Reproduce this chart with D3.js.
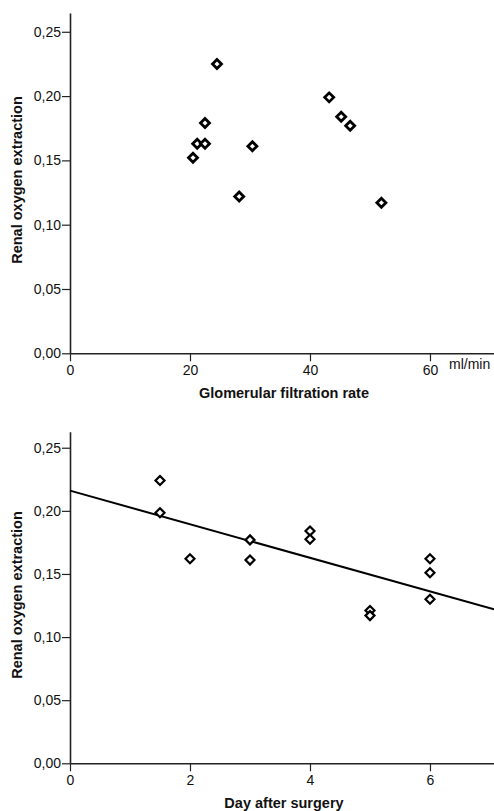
<!DOCTYPE html>
<html>
<head>
<meta charset="utf-8">
<script src="https://cdn.jsdelivr.net/npm/d3@7"></script>
<style>
  body { margin: 0; background: #fff; }
  svg text { font-family: "Liberation Sans", Arial, sans-serif; fill: #111; }
  .tick text { font-size: 14px; }
  .axisTitle { font-size: 14.5px; font-weight: bold; }
</style>
</head>
<body>
<div id="chart"></div>
<script>
// panel 1: GFR vs renal oxygen extraction
var gfr = [20.5, 21.2, 22.5, 22.5, 24.5, 28.2, 30.4, 43.2, 45.2, 46.7, 51.9];
var gfrExtraction = [0.152, 0.163, 0.163, 0.179, 0.225, 0.122, 0.161, 0.199, 0.184, 0.177, 0.117];
var gfrTicks = [0, 20, 40, 60];

// panel 2: day after surgery vs renal oxygen extraction
var day = [1.5, 1.5, 2, 3, 3, 4, 4, 5, 5, 6, 6, 6];
var dayExtraction = [0.224, 0.1985, 0.162, 0.177, 0.161, 0.184, 0.1775, 0.121, 0.117, 0.162, 0.151, 0.130];
var dayTicks = [0, 2, 4, 6];

// regression line for panel 2
var fitIntercept = 0.216;
var fitSlope = -0.0133;

var extractionTicks = [0, 0.05, 0.10, 0.15, 0.20, 0.25];

var svgWidth = 494;
var svgHeight = 811;

var svg = d3.select("#chart")
  .append("svg")
  .attr("width", svgWidth)
  .attr("height", svgHeight);

var locale = d3.formatLocale({ decimal: ",", thousands: ".", grouping: [3], currency: ["", "€"] });
var yFormat = locale.format(".2f");

// rotated square marker
function diamond(h) {
  return "M0," + (-h) + "L" + h + ",0L0," + h + "L" + (-h) + ",0Z";
}

function drawPanel(opts) {
  var x = d3.scaleLinear().domain([0, opts.xMax]).range([70, 494]);
  var y = d3.scaleLinear().domain([0, opts.yMax]).range([opts.bottom, opts.top]);

  var g = svg.append("g");

  var yAxis = d3.axisLeft(y)
    .tickValues(extractionTicks)
    .tickFormat(yFormat)
    .tickSize(8)
    .tickSizeOuter(0)
    .tickPadding(1);

  var xAxis = d3.axisBottom(x)
    .tickValues(opts.xTicks)
    .tickFormat(d3.format("d"))
    .tickSize(8)
    .tickSizeOuter(0)
    .tickPadding(4);

  var ya = g.append("g")
    .attr("transform", "translate(70,0)")
    .call(yAxis);

  var xa = g.append("g")
    .attr("transform", "translate(0," + opts.bottom + ")")
    .call(xAxis);

  [ya, xa].forEach(function(a) {
    a.select(".domain").attr("stroke", "#222").attr("stroke-width", 1.6);
    a.selectAll(".tick line").attr("stroke", "#222").attr("stroke-width", 1.2);
    a.selectAll(".tick text").attr("fill", "#111");
  });

  if (opts.fit) {
    g.append("line")
      .attr("x1", x(0))
      .attr("y1", y(opts.fit[0]))
      .attr("x2", x(opts.xMax))
      .attr("y2", y(opts.fit[0] + opts.fit[1] * opts.xMax))
      .attr("stroke", "#000")
      .attr("stroke-width", 2);
  }

  g.selectAll("path.pt")
    .data(opts.xs)
    .enter()
    .append("path")
    .attr("class", "pt")
    .attr("d", diamond(opts.markerSize))
    .attr("transform", function(d, i) { return "translate(" + x(d) + "," + y(opts.ys[i]) + ")"; })
    .attr("fill", "#fff")
    .attr("stroke", "#000")
    .attr("stroke-width", opts.markerStroke);

  g.append("text")
    .attr("class", "axisTitle")
    .attr("text-anchor", "middle")
    .attr("transform", "translate(21.5," + opts.yTitleY + ") rotate(-90)")
    .text("Renal oxygen extraction");

  g.append("text")
    .attr("class", "axisTitle")
    .attr("text-anchor", "middle")
    .attr("x", 284)
    .attr("y", opts.xTitleY)
    .text(opts.xTitle);

  return { x: x, y: y, g: g };
}

var gfrPanel = drawPanel({
  xs: gfr, ys: gfrExtraction, xTicks: gfrTicks,
  xMax: 70.67, yMax: 0.2646, top: 13, bottom: 353.3,
  yTitleY: 180, xTitleY: 398, xTitle: "Glomerular filtration rate",
  markerSize: 4.5, markerStroke: 2.8
});

gfrPanel.g.append("text")
  .attr("x", 449)
  .attr("y", 369)
  .style("font-size", "14px")
  .text("ml/min");

drawPanel({
  xs: day, ys: dayExtraction, xTicks: dayTicks,
  xMax: 7.067, yMax: 0.2627, top: 431.7, bottom: 763.3,
  yTitleY: 595, xTitleY: 808, xTitle: "Day after surgery",
  markerSize: 4.5, markerStroke: 2.2,
  fit: [fitIntercept, fitSlope]
});
</script>
</body>
</html>
